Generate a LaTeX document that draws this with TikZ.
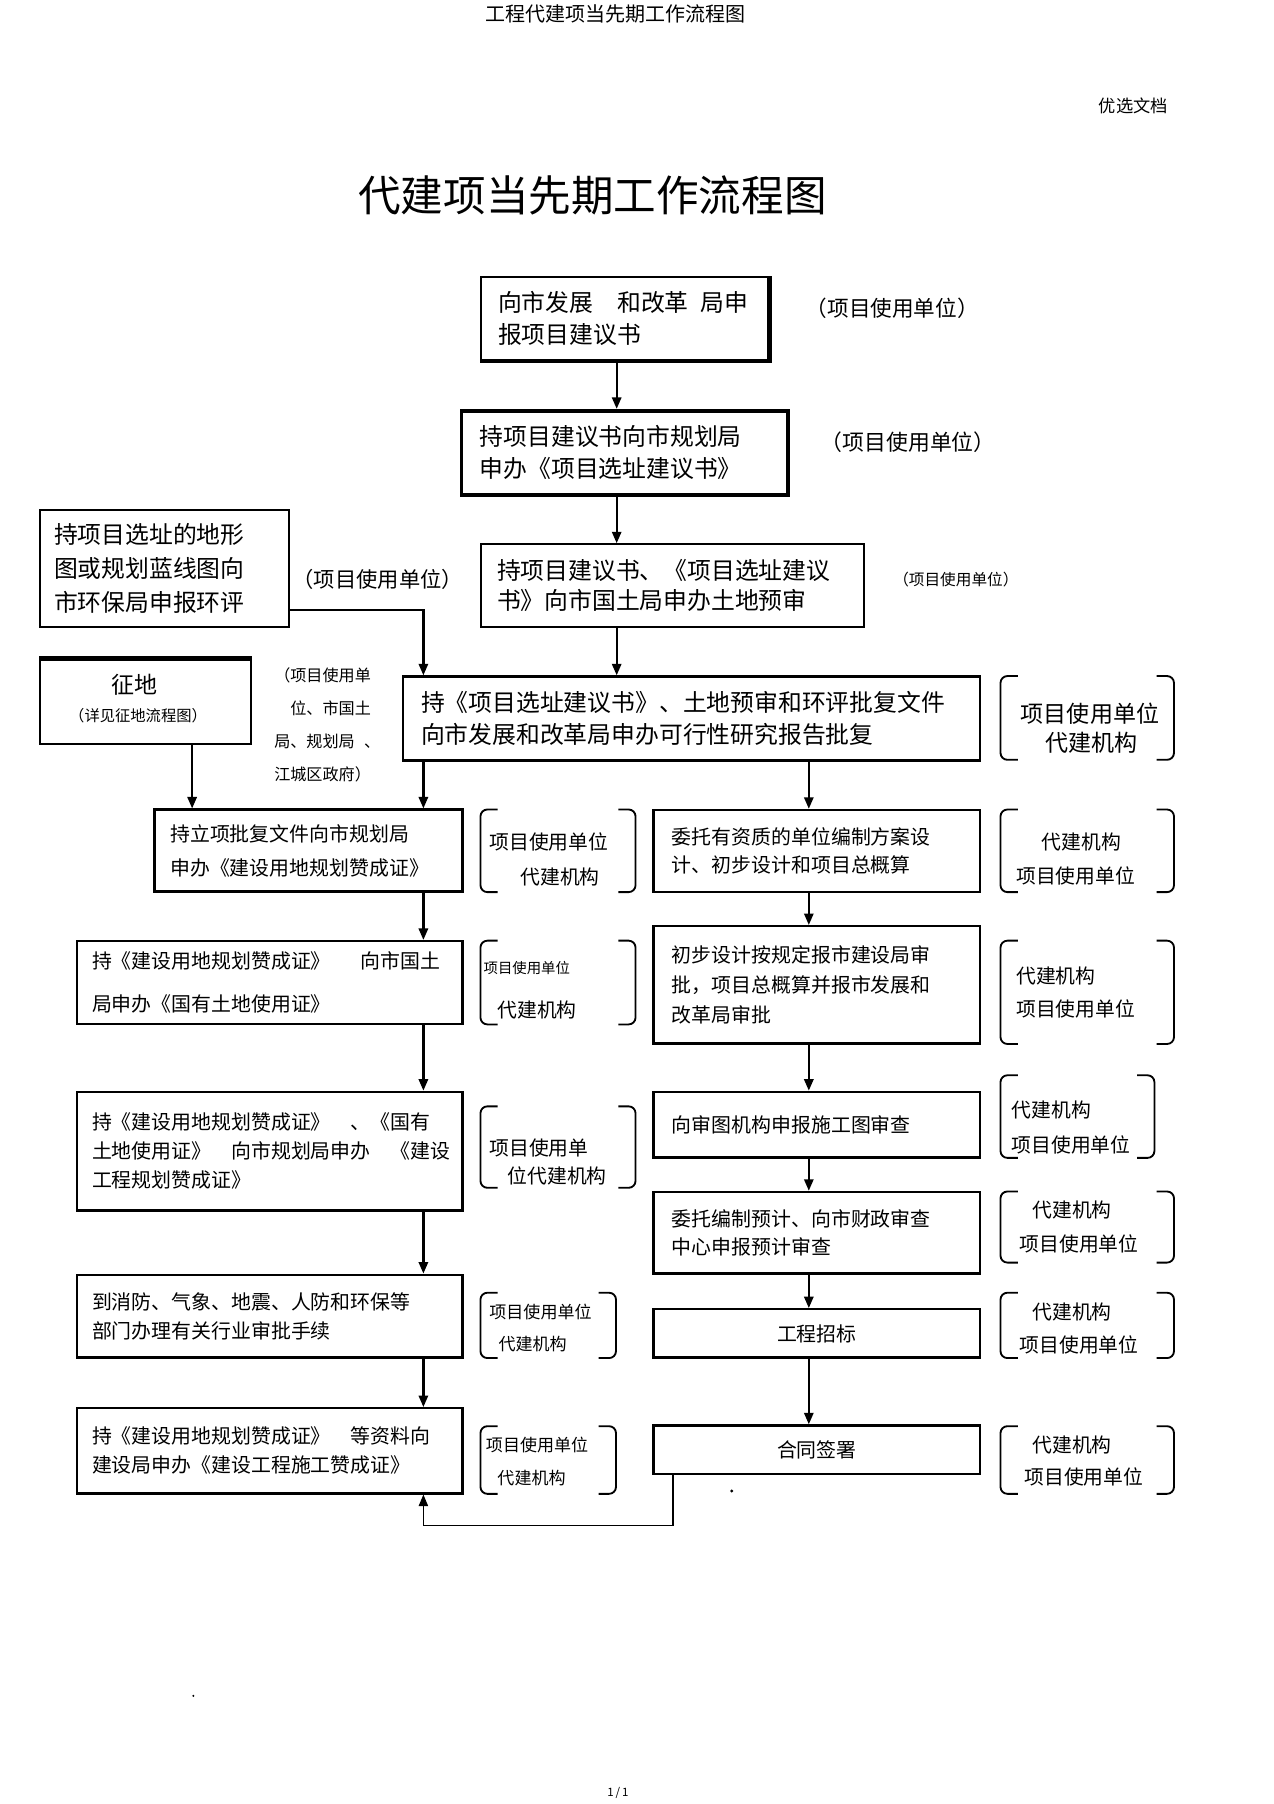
\documentclass[tikz,border=0pt]{standalone}
\usepackage{fontspec}
\setmainfont{Noto Sans CJK SC}
\usetikzlibrary{arrows.meta,calc}
\newcommand\bkt[1]{%
  \draw[brk] ($(#1.north west)+(15,0)$) -- (#1.north west) -- (#1.south west) -- ($(#1.south west)+(15,0)$);
  \draw[brk] ($(#1.north east)+(-15,0)$) -- (#1.north east) -- (#1.south east) -- ($(#1.south east)+(-15,0)$);}
\begin{document}
\begin{tikzpicture}[x=0.5pt,y=-0.5pt,
  box/.style={draw,line width=0.8pt,inner sep=0pt,align=left},
  bigtxt/.style={font=\fontsize{10.35pt}{#1}\selectfont},
  smtxt/.style={font=\fontsize{8.65pt}{#1}\selectfont},
  bk/.style={inner sep=0pt},
  brk/.style={line width=0.8pt,rounded corners=3pt},
  lbl/.style={inner sep=0pt,anchor=west},
  arr/.style={line width=1pt,-{Triangle[length=5pt,width=4pt]}},
  arrthin/.style={line width=0.6pt,-{Triangle[length=5pt,width=4pt]}}]
\fill[white] (0,0) rectangle (1107,1568);
\useasboundingbox (0,0) rectangle (1107,1568);

% header, title, footer
\node[inner sep=0pt,font=\fontsize{8.7pt}{10pt}\selectfont] (hdr) at (535,12) {工程代建项当先期工作流程图};
\node[inner sep=0pt,font=\fontsize{7.5pt}{9pt}\selectfont] (opt) at (985,92) {优选文档};
\node[inner sep=0pt,font=\fontsize{18.5pt}{22pt}\selectfont] (ttl) at (515,170) {代建项当先期工作流程图};
\node[inner sep=0pt,font=\fontsize{5pt}{6pt}\selectfont] (ftr) at (537,1558) {1\,/\,1};

% column coordinates
\coordinate (X1) at (536,0);
\coordinate (X2) at (368,0);
\coordinate (X3) at (167,0);
\coordinate (X4) at (703,0);
\coordinate (X5) at (585,0);
\coordinate (Y1) at (0,530);
\coordinate (Y2) at (0,1326);

% top chain
\node[box,bigtxt=14pt,minimum width=125pt,minimum height=36pt,text width=110pt] (a) at (543,277) {向市发展　和改革\hspace{0.5em}局申\\报项目建议书};
\draw[line width=2pt] (a.north east) -- (a.south east) -- (a.south west);
\node[lbl,font=\fontsize{9.4pt}{11pt}\selectfont] (la) at (700,268) {（项目使用单位）};

\node[box,line width=1.6pt,bigtxt=14pt,minimum width=142pt,minimum height=36.5pt,text width=126pt] (b) at (543,393.5) {持项目建议书向市规划局\\申办《项目选址建议书》};
\node[lbl,font=\fontsize{9.5pt}{11pt}\selectfont] (lb) at (713,384) {（项目使用单位）};

\node[box,bigtxt=14.75pt,minimum width=108pt,minimum height=51pt,text width=96pt] (c) at (143,494) {持项目选址的地形\\图或规划蓝线图向\\市环保局申报环评};
\node[lbl,font=\fontsize{9.25pt}{11pt}\selectfont] (lc) at (254,504) {（项目使用单位）};

\node[box,bigtxt=13pt,minimum width=166.5pt,minimum height=36pt,text width=152.5pt] (d) at (584.5,509) {持项目建议书、《项目选址建议\\书》向市国土局申办土地预审};
\node[lbl,font=\fontsize{6.8pt}{8pt}\selectfont] (ld) at (776,504) {（项目使用单位）};

\node[box,minimum width=91.5pt,minimum height=37pt] (e) at (126.5,610) {};
\draw[line width=2.2pt] (e.north west) -- (e.north east);
\node[inner sep=0pt,font=\fontsize{10pt}{12pt}\selectfont] (e1) at (117,595) {征地};
\node[inner sep=0pt,font=\fontsize{6.65pt}{8pt}\selectfont] (e2) at (120,622) {（详见征地流程图）};
\node[lbl,align=left,text width=52pt,font=\fontsize{7pt}{14.3pt}\selectfont] (le) at (238,630) {（项目使用单\\\hspace{7pt}位、市国土\\局、规划局\hspace{4pt}、\\江城区政府）};

\node[box,line width=1pt,bigtxt=13.5pt,minimum width=251pt,minimum height=36.5pt,text width=235pt] (f) at (601,624.5) {持《项目选址建议书》、土地预审和环评批复文件\\向市发展和改革局申办可行性研究报告批复};
\node[bk,minimum width=75pt,minimum height=36pt] (fb) at (945,624) {};
\bkt{fb}
\node[lbl,font=\fontsize{10pt}{12pt}\selectfont] (fb1) at (887,620) {项目使用单位};
\node[lbl,font=\fontsize{10pt}{12pt}\selectfont] (fb2) at (908,646) {代建机构};

% left column
\node[box,line width=1.3pt,smtxt=14.5pt,minimum width=134pt,minimum height=35.5pt,text width=120pt] (g) at (268,739.5) {持立项批复文件向市规划局\\申办《建设用地规划赞成证》};
\node[bk,minimum width=67pt,minimum height=35.5pt] (gb) at (485,739.5) {};
\bkt{gb}
\node[lbl,font=\fontsize{8.6pt}{10pt}\selectfont] (gb1) at (425,732) {项目使用单位};
\node[lbl,font=\fontsize{8.6pt}{10pt}\selectfont] (gb2) at (452,762) {代建机构};

\node[box,line width=1pt,smtxt=19pt,minimum width=167.5pt,minimum height=36pt,text width=154.5pt] (i) at (234.5,854) {持《建设用地规划赞成证》\hspace{1.5em}向市国土\\局申办《国有土地使用证》};
\node[bk,minimum width=67pt,minimum height=36pt] (ib) at (485,854) {};
\bkt{ib}
\node[lbl,font=\fontsize{6.25pt}{8pt}\selectfont] (ib1) at (420,841) {项目使用单位};
\node[lbl,font=\fontsize{8.6pt}{10pt}\selectfont] (ib2) at (432,878) {代建机构};

\node[box,line width=1pt,smtxt=12.75pt,minimum width=167.5pt,minimum height=51.5pt,text width=154.5pt] (k) at (234.5,1000.5) {持《建设用地规划赞成证》　、《国有\\土地使用证》　向市规划局申办　《建设\\工程规划赞成证》};
\node[bk,minimum width=67pt,minimum height=35pt] (kb) at (485,997) {};
\bkt{kb}
\node[lbl,font=\fontsize{8.6pt}{10pt}\selectfont] (kb1) at (425,998) {项目使用单};
\node[lbl,font=\fontsize{8.6pt}{10pt}\selectfont] (kb2) at (441,1022) {位代建机构};

\node[box,line width=1pt,smtxt=12.5pt,minimum width=167.5pt,minimum height=36pt,text width=154.5pt] (n) at (234.5,1144) {到消防、气象、地震、人防和环保等\\部门办理有关行业审批手续};
\node[bk,minimum width=58.5pt,minimum height=28pt] (nb) at (476.5,1152) {};
\bkt{nb}
\node[lbl,font=\fontsize{7.4pt}{9pt}\selectfont] (nb1) at (425,1140) {项目使用单位};
\node[lbl,font=\fontsize{7.4pt}{9pt}\selectfont] (nb2) at (433,1168) {代建机构};

\node[box,line width=1pt,smtxt=12.5pt,minimum width=167.5pt,minimum height=37pt,text width=154.5pt] (p) at (234.5,1261) {持《建设用地规划赞成证》　等资料向\\建设局申办《建设工程施工赞成证》};
\node[bk,minimum width=58.5pt,minimum height=29pt] (pb) at (476.5,1269) {};
\bkt{pb}
\node[lbl,font=\fontsize{7.4pt}{9pt}\selectfont] (pb1) at (422,1256) {项目使用单位};
\node[lbl,font=\fontsize{7.4pt}{9pt}\selectfont] (pb2) at (432,1285) {代建机构};

% right column
\node[box,line width=1pt,smtxt=12.5pt,minimum width=142pt,minimum height=35.5pt,text width=126pt] (h) at (710,739.5) {委托有资质的单位编制方案设\\计、初步设计和项目总概算};
\node[bk,minimum width=75pt,minimum height=35.5pt] (hb) at (945,739.5) {};
\bkt{hb}
\node[lbl,font=\fontsize{8.6pt}{10pt}\selectfont] (hb1) at (905,732) {代建机构};
\node[lbl,font=\fontsize{8.6pt}{10pt}\selectfont] (hb2) at (883,761) {项目使用单位};

\node[box,line width=1pt,smtxt=13pt,minimum width=142pt,minimum height=51pt,text width=126pt] (j) at (710,856) {初步设计按规定报市建设局审\\批，项目总概算并报市发展和\\改革局审批};
\node[bk,minimum width=75pt,minimum height=44.5pt] (jb) at (945,862.5) {};
\bkt{jb}
\node[lbl,font=\fontsize{8.6pt}{10pt}\selectfont] (jb1) at (883,848) {代建机构};
\node[lbl,font=\fontsize{8.6pt}{10pt}\selectfont] (jb2) at (883,877) {项目使用单位};

\node[box,line width=1pt,smtxt=12pt,minimum width=142pt,minimum height=28.5pt,text width=126pt] (l) at (710,977.5) {向审图机构申报施工图审查\\[3pt]};
\node[bk,minimum width=66.5pt,minimum height=35.5pt] (lbk) at (936.5,970.5) {};
\bkt{lbk}
\node[lbl,font=\fontsize{8.6pt}{10pt}\selectfont] (lb1) at (879,965) {代建机构};
\node[lbl,font=\fontsize{8.6pt}{10pt}\selectfont] (lb2) at (879,995) {项目使用单位};

\node[box,line width=1pt,smtxt=12pt,minimum width=142pt,minimum height=35.5pt,text width=126pt] (m) at (710,1071.5) {委托编制预计、向市财政审查\\中心申报预计审查};
\node[bk,minimum width=75pt,minimum height=30.5pt] (mb) at (945,1066.5) {};
\bkt{mb}
\node[lbl,font=\fontsize{8.6pt}{10pt}\selectfont] (mb1) at (897,1052) {代建机构};
\node[lbl,font=\fontsize{8.6pt}{10pt}\selectfont] (mb2) at (886,1081) {项目使用单位};

\node[box,line width=1pt,align=center,font=\fontsize{8.65pt}{10pt}\selectfont,minimum width=142pt,minimum height=21pt] (o) at (710,1159) {工程招标};
\node[bk,minimum width=75pt,minimum height=28pt] (ob) at (945,1152) {};
\bkt{ob}
\node[lbl,font=\fontsize{8.6pt}{10pt}\selectfont] (ob1) at (897,1140) {代建机构};
\node[lbl,font=\fontsize{8.6pt}{10pt}\selectfont] (ob2) at (886,1169) {项目使用单位};

\node[box,line width=1pt,align=center,font=\fontsize{8.65pt}{10pt}\selectfont,minimum width=142pt,minimum height=21pt] (q) at (710,1260) {合同签署};
\node[bk,minimum width=75pt,minimum height=29pt] (qb) at (945,1269) {};
\bkt{qb}
\node[lbl,font=\fontsize{8.6pt}{10pt}\selectfont] (qb1) at (897,1256) {代建机构};
\node[lbl,font=\fontsize{8.6pt}{10pt}\selectfont] (qb2) at (890,1284) {项目使用单位};

% connectors
\draw[arr] (a.south -| X1) -- (b.north -| X1);
\draw[arr] (b.south -| X1) -- (d.north -| X1);
\draw[arr] (d.south -| X1) -- (f.north -| X1);
\draw[arr] (c.east |- Y1) -- (Y1 -| X2) -- (f.north -| X2);
\draw[arr] (e.south -| X3) -- (g.north -| X3);
\draw[arr] (f.south -| X2) -- (g.north -| X2);
\draw[arr] (f.south -| X4) -- (h.north -| X4);
\draw[arr] (g.south -| X2) -- (i.north -| X2);
\draw[arr] (i.south -| X2) -- (k.north -| X2);
\draw[arr] (k.south -| X2) -- (n.north -| X2);
\draw[arr] (n.south -| X2) -- (p.north -| X2);
\draw[arr] (h.south -| X4) -- (j.north -| X4);
\draw[arr] (j.south -| X4) -- (l.north -| X4);
\draw[arr] (l.south -| X4) -- (m.north -| X4);
\draw[arr] (m.south -| X4) -- (o.north -| X4);
\draw[arr] (o.south -| X4) -- (q.north -| X4);
\draw[arrthin] (q.south -| X5) -- (Y2 -| X5) -- (Y2 -| X2) -- (p.south -| X2);

% stray dots
\fill (636,1296) circle (0.7pt);
\fill (168,1474) circle (0.5pt);
\end{tikzpicture}
\end{document}
